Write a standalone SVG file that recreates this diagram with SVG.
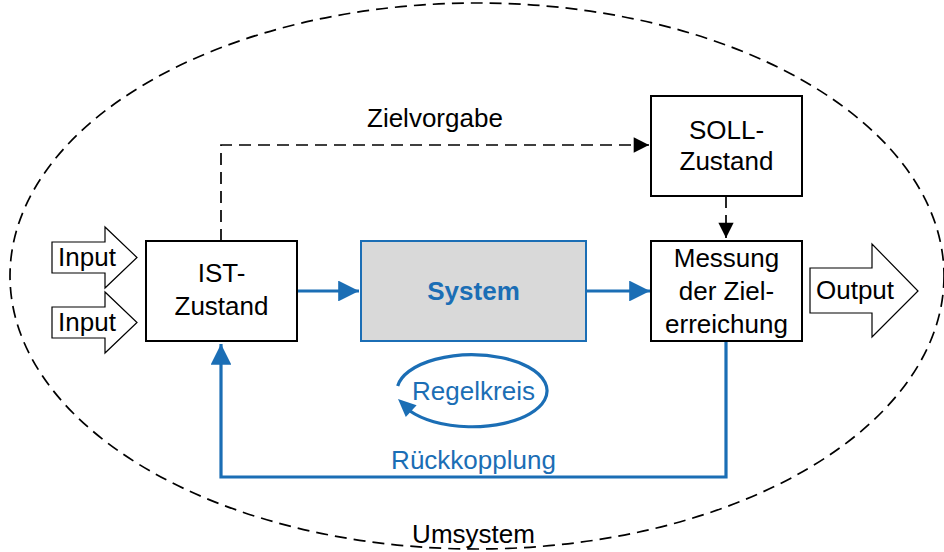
<svg xmlns="http://www.w3.org/2000/svg" width="944" height="552" viewBox="0 0 944 552">
  <style>
    text { font-family: "Liberation Sans", Arial, sans-serif; font-size: 26px; fill: #000; }
    .blue { fill: #1b6eb5; }
    .bold { font-weight: bold; }
    .box { fill: #fff; stroke: #000; stroke-width: 2; }
    .sys { fill: #d9d9d9; stroke: #1b6eb5; stroke-width: 2; }
    .block { fill: #fff; stroke: #000; stroke-width: 1.2; stroke-linejoin: miter; }
    .dash { fill: none; stroke: #000; stroke-width: 1.7; stroke-dasharray: 12 7; }
    .flow { fill: none; stroke: #1b6eb5; stroke-width: 3.2; }
  </style>
  <defs>
    <marker id="headBlue" viewBox="0 0 10 10" refX="10" refY="5" markerWidth="6.5" markerHeight="6.5" markerUnits="strokeWidth" orient="auto">
      <path d="M0,0 L10,5 L0,10 z" fill="#1b6eb5"/>
    </marker>
    <marker id="headBlack" viewBox="0 0 10 10" refX="10" refY="5" markerWidth="10" markerHeight="9" markerUnits="strokeWidth" orient="auto">
      <path d="M0,0 L10,5 L0,10 z" fill="#000"/>
    </marker>
  </defs>

  <!-- surrounding environment -->
  <g id="umsystem">
    <ellipse cx="477" cy="276" rx="467" ry="273" class="dash" stroke-width="1.8" stroke-dasharray="12 8"/>
    <text x="473.5" y="543" text-anchor="middle">Umsystem</text>
  </g>

  <!-- connectors -->
  <g id="connectors">
    <path class="dash" d="M221,241 V145 H649" marker-end="url(#headBlack)"/>
    <path class="dash" d="M726,196 V238" marker-end="url(#headBlack)"/>
    <path class="flow" d="M297,291 H359" marker-end="url(#headBlue)"/>
    <path class="flow" d="M587,291 H650" marker-end="url(#headBlue)"/>
    <path class="flow" d="M726,341 V477 H221 V344" marker-end="url(#headBlue)"/>
    <text x="367" y="127">Zielvorgabe</text>
    <text x="473.5" y="469" text-anchor="middle" class="blue">Rückkopplung</text>
  </g>

  <!-- control loop symbol -->
  <g id="regelkreis">
    <path d="M397.7,386 A75,36 0 1 1 410,411" fill="none" stroke="#1b6eb5" stroke-width="3.2"/>
    <polygon points="398,399 416.6,405.3 405.8,417.1" fill="#1b6eb5"/>
    <text x="473.5" y="400" text-anchor="middle" class="blue">Regelkreis</text>
  </g>

  <g id="input1">
    <path class="block" d="M52,242 H105 V227 L137,257.5 L105,288 V273 H52 Z"/>
    <text x="87" y="266" text-anchor="middle">Input</text>
  </g>

  <g id="input2">
    <path class="block" d="M52,307 H105 V292 L137,322.5 L105,353 V338 H52 Z"/>
    <text x="87" y="331" text-anchor="middle">Input</text>
  </g>

  <g id="ist">
    <rect class="box" x="146" y="241" width="151" height="100"/>
    <text x="221.5" y="282" text-anchor="middle">IST-</text>
    <text x="221.5" y="315" text-anchor="middle">Zustand</text>
  </g>

  <g id="system">
    <rect class="sys" x="361" y="241" width="225" height="100"/>
    <text x="473.5" y="300" text-anchor="middle" class="blue bold">System</text>
  </g>

  <g id="soll">
    <rect class="box" x="651" y="96" width="151" height="100"/>
    <text x="726.5" y="139" text-anchor="middle">SOLL-</text>
    <text x="726.5" y="170" text-anchor="middle">Zustand</text>
  </g>

  <g id="messung">
    <rect class="box" x="651" y="241" width="151" height="100"/>
    <text x="726.5" y="267" text-anchor="middle">Messung</text>
    <text x="726.5" y="300" text-anchor="middle">der Ziel-</text>
    <text x="726.5" y="333" text-anchor="middle">erreichung</text>
  </g>

  <g id="output">
    <path class="block" d="M810,268 H872 V244 L918,291 L872,337 V313 H810 Z"/>
    <text x="855" y="299" text-anchor="middle">Output</text>
  </g>
</svg>
